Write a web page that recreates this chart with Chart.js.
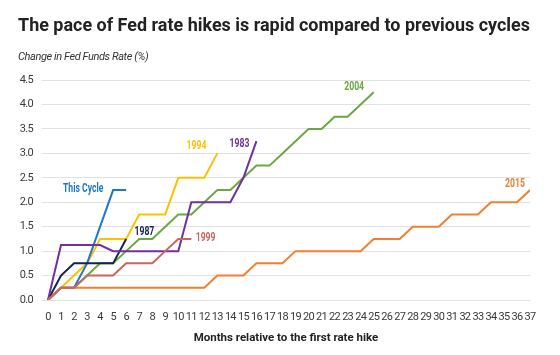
<!DOCTYPE html>
<html>
<head>
<meta charset="utf-8">
<script src="https://cdn.jsdelivr.net/npm/chart.js@4/dist/chart.umd.min.js"></script>
<style>
html,body{margin:0;padding:0;background:#fff;}
#wrap{width:560px;height:355px;position:relative;}
</style>
</head>
<body>
<div id="wrap"><canvas id="c"></canvas></div>
<script>
// ---- Data ----
const months = Array.from({length: 38}, (_, i) => i); // x tick labels 0..37
const yTicks = [0, 0.5, 1, 1.5, 2, 2.5, 3, 3.5, 4, 4.5];
const seriesNames = ["This Cycle", "1987", "1994", "1983", "1999", "2004", "2015"];
const thisCycle = [0, 0.25, 0.25, 0.75, 1.5, 2.25, 2.25];
const c1987 = [0, 0.5, 0.75, 0.75, 0.75, 0.75, 1.25];
const c1994 = [0, 0.25, 0.5, 0.75, 1.25, 1.25, 1.25, 1.75, 1.75, 1.75, 2.5, 2.5, 2.5, 3.0];
const c1983 = [0, 1.125, 1.125, 1.125, 1.125, 1.0, 1.0, 1.0, 1.0, 1.0, 1.0, 2.0, 2.0, 2.0, 2.0, 2.5, 3.25];
const c1999 = [0, 0.25, 0.25, 0.5, 0.5, 0.5, 0.75, 0.75, 0.75, 1.0, 1.25, 1.25];
const c2004 = [0, 0.25, 0.25, 0.5, 0.75, 0.75, 1.0, 1.25, 1.25, 1.5, 1.75, 1.75, 2.0, 2.25, 2.25, 2.5, 2.75, 2.75, 3.0, 3.25, 3.5, 3.5, 3.75, 3.75, 4.0, 4.25];
const c2015 = [0, 0.25, 0.25, 0.25, 0.25, 0.25, 0.25, 0.25, 0.25, 0.25, 0.25, 0.25, 0.25,
               0.5, 0.5, 0.5, 0.75, 0.75, 0.75, 1.0, 1.0, 1.0, 1.0, 1.0, 1.0,
               1.25, 1.25, 1.25, 1.5, 1.5, 1.5, 1.75, 1.75, 1.75, 2.0, 2.0, 2.0, 2.25];
// label anchor positions in data units [month, value]
const labelAt = {
  "This Cycle": [2.7, 2.27],
  "1987": [7.4, 1.4],
  "1994": [11.4, 3.16],
  "1983": [14.7, 3.19],
  "1999": [12.1, 1.27],
  "2004": [23.5, 4.35],
  "2015": [35.85, 2.37]
};
const TITLE = 'The pace of Fed rate hikes is rapid compared to previous cycles';
const SUBTITLE = 'Change in Fed Funds Rate (%)';
const XTITLE = 'Months relative to the first rate hike';

// ---- Styles ----
const FONT = 'Roboto, "Liberation Sans", sans-serif';
const colors = {
  "This Cycle": "#1e78c8",
  "1987": "#14234f",
  "1994": "#ffc000",
  "1983": "#7030a0",
  "1999": "#c8675d",
  "2004": "#6aa842",
  "2015": "#f07f30"
};
const seriesData = {
  "This Cycle": thisCycle, "1987": c1987, "1994": c1994, "1983": c1983,
  "1999": c1999, "2004": c2004, "2015": c2015
};
// draw order (first = on top)
const drawOrder = ["1999", "2015", "1983", "1987", "This Cycle", "1994", "2004"];

const datasets = drawOrder.map(name => ({
  label: name,
  data: seriesData[name].map((v, i) => ({x: months[i], y: v})),
  borderColor: colors[name],
  backgroundColor: colors[name],
  borderWidth: 2,
  pointRadius: 0,
  tension: 0,
  fill: false,
  borderJoinStyle: 'miter'
}));

// narrower text for axis labels / subtitle (letter spacing)
const spacingPatch = {
  id: 'spacingPatch',
  beforeDraw(chart) {
    const ctx = chart.ctx;
    const wrap = (obj, fn, sp) => {
      if (!obj || obj['_p_' + fn]) return;
      const orig = obj[fn];
      obj[fn] = function(...a) {
        ctx.save();
        ctx.letterSpacing = sp;
        const r = orig.apply(this, a);
        ctx.restore();
        return r;
      };
      obj['_p_' + fn] = true;
    };
    wrap(chart.scales.x, 'drawLabels', '-0.7px');
    wrap(chart.scales.y, 'drawLabels', '-0.7px');
    chart.boxes.forEach(b => {
      if (b.options && b.options.text === SUBTITLE) wrap(b, 'draw', '-0.4px');
    });
  }
};

const seriesLabels = {
  id: 'seriesLabels',
  afterDatasetsDraw(chart) {
    const {ctx, scales: {x, y}} = chart;
    seriesNames.forEach(name => {
      const [mx, my] = labelAt[name];
      ctx.save();
      ctx.font = 'bold 12px ' + FONT;
      ctx.textAlign = 'center';
      ctx.textBaseline = 'middle';
      ctx.fillStyle = colors[name];
      ctx.translate(x.getPixelForValue(mx), y.getPixelForValue(my));
      ctx.scale(0.72, 1);
      ctx.fillText(name, 0, 0);
      ctx.restore();
    });
  }
};

new Chart(document.getElementById('c'), {
  type: 'line',
  data: {datasets},
  options: {
    responsive: true,
    maintainAspectRatio: false,
    animation: false,
    events: [],
    layout: {padding: {left: 18, right: 30, top: 0, bottom: 0}},
    plugins: {
      legend: {display: false},
      tooltip: {enabled: false},
      title: {
        display: true,
        text: TITLE,
        align: 'start',
        color: '#222222',
        font: {family: 'Roboto', size: 18, weight: 'bold', lineHeight: 1.2},
        padding: {top: 15.7, bottom: 13.6}
      },
      subtitle: {
        display: true,
        text: SUBTITLE,
        align: 'start',
        color: '#333333',
        font: {family: FONT, size: 11, style: 'italic', lineHeight: 1.2},
        padding: {top: 0, bottom: 16}
      }
    },
    scales: {
      x: {
        type: 'linear',
        min: -0.46,
        max: 37,
        afterBuildTicks(scale) { scale.ticks = months.map(v => ({value: v})); },
        grid: {display: false, drawTicks: false},
        border: {display: false},
        ticks: {
          color: '#3a3a3a',
          font: {family: FONT, size: 11},
          padding: 11,
          maxRotation: 0,
          autoSkip: false,
          callback: v => String(v)
        },
        title: {
          display: true,
          text: XTITLE,
          color: '#222222',
          font: {family: FONT, size: 11.5, weight: 'bold', lineHeight: 1.2},
          padding: {top: 4, bottom: 10}
        },
        afterFit(scale) { scale.height = 55; }
      },
      y: {
        min: 0,
        max: 4.5,
        afterBuildTicks(scale) { scale.ticks = yTicks.map(v => ({value: v})); },
        grid: {color: '#e2e2e2', lineWidth: 1, drawTicks: false},
        border: {display: false},
        ticks: {
          color: '#3a3a3a',
          font: {family: FONT, size: 11},
          padding: 9,
          callback: v => Number(v).toFixed(1)
        },
        afterFit(scale) { scale.width = 24; }
      }
    }
  },
  plugins: [spacingPatch, seriesLabels]
});
</script>
</body>
</html>
